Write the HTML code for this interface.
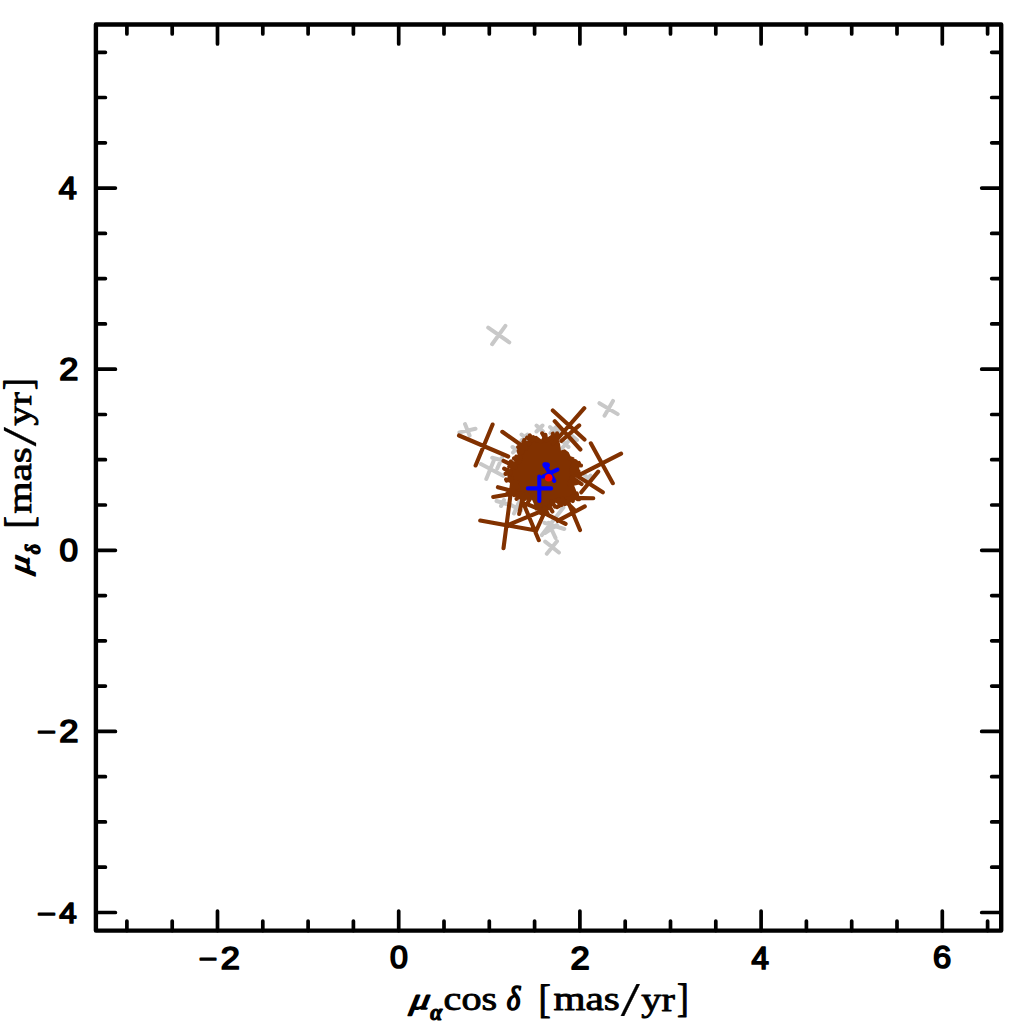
<!DOCTYPE html>
<html><head><meta charset="utf-8"><style>
html,body{margin:0;padding:0;background:#fff;}
svg{display:block;}
.lab{font-size:100px;fill:#000;stroke:#000;stroke-linejoin:round;}
</style></head><body>
<svg width="1024" height="1024" viewBox="0 0 1024 1024">
<rect width="1024" height="1024" fill="#fff"/>
<g stroke="#c8c8c8" stroke-width="4.0" stroke-linecap="round" fill="none"><path d="M488.2,327.6L509.3,342.3M505.4,325.9L492.1,344.2M599.4,403.2L617.7,414.1M613.0,400.9L604.5,415.7M465.0,424.0L469.6,435.6M459.4,432.4L475.5,428.8M480.9,464.1L503.1,475.8M486.3,478.9L494.0,460.0M492.2,457.8L502.0,460.2M502.0,457.8L497.3,468.4M536.5,425.5L543.0,431.5M542.5,425.5L536.5,431.5M550.0,427.0L556.5,433.0M556.0,427.0L550.5,433.0M521.5,434.5L528.0,440.0M527.5,434.5L521.5,440.5M512.5,447.0L519.5,452.0M518.5,446.5L513.0,452.5M560.5,450.0L569.0,440.5M562.0,440.5L568.5,447.0M571.5,435.5L577.0,440.0M571.5,435.5L577.0,440.0M555.0,428.0L559.5,435.0M555.5,435.0L560.0,429.0M585.0,475.5L591.0,481.0M590.5,475.5L585.5,481.5M563.4,507.5L541.9,535.1M544.5,522.8L564.3,529.0M548.5,522.8L555.5,537.8M545.0,533.0L557.0,525.0M545.2,541.6L558.9,552.5M557.0,541.2L546.8,553.7M496.5,501.0L508.5,504.5M501.0,506.0L504.0,500.0M511.0,505.0L521.0,510.5M514.0,513.5L519.0,502.0"/></g>
<path d="M507.5,474.9L508.4,470.2L511.7,466.9L515.5,463.6L517.8,458L519.7,454.25L520.6,448.2L526.25,443.5L528.1,439.25L532.3,436.9L536.6,439.7L540.8,440.2L543.1,436L545.5,437.5L548,440L550,437.5L553,438L556,434.5L558,438L560,443.75L560.9,450.4L564.8,449.2L568.7,452.3L570.6,456.25L574.5,457.4L571.8,461L576.5,461.3L574.7,467.9L576,470.5L573.6,476.5L572.6,481.9L572.6,488.3L576.9,492.6L577.9,495.8L571.5,499.6L567.2,501.2L562,502L557,502L553,504L550,510L545,511L540,509L537,504L536.9,501.5L531,498.5L526,496.7L517.1,494.7L512,492.5L514.5,490L516,486L515,482.5L510,480.5L507.5,477.5Z" fill="#813100"/>
<path d="M459,435.5L508.2,456.5M492.6,424.5L475.6,465.5M502.3,431.8L526,448.5M503.5,460.8L515,466.3M552.8,410.5L584.5,439.6M584.3,408.2L553,444M554.7,421.2L580.4,449.5M579.2,425.4L561.3,441M590.8,443.3L612.8,483.2M621.1,453.6L581,474.1M598.2,471.6L581.3,492.3M576.5,475.5L602.8,492.3M575.1,479.7L581.6,484.1M573,464L581,465.5M556.9,507.1L568.3,500.8M572,497.9L593.3,498.2M566,501.6L573.9,509.5M571,470L578.5,472M584.8,506.4L557.6,520.9M568.3,502.2L580,530M547.3,514.7L565.6,523.9M480.2,520.5L534.8,530.3M512,483.4L503.5,548.3M493.2,497L512,493.8M497.9,487.2L514,491.4M506.1,479.4L516.5,482.5M509.5,524.3L546.5,509M520,495.2L538.8,540.2M519.2,513.9L523.1,495.2M526.25,503.75L544.5,511.4M544.5,512.5L536.1,530.8M573.1,469.8L578.4,471.0M572.0,473.6L578.5,472.6M571.1,477.9L576.7,474.4M570.0,481.5L574.9,479.8M569.6,484.5L577.0,483.1M571.5,484.4L574.0,490.8M576.7,493.3L577.8,499.3M572.1,496.5L579.2,499.2M568.1,498.4L572.8,501.0M562.7,499.0L565.2,504.0M559.1,499.3L561.7,504.8M555.9,500.2L560.0,503.3M551.5,501.4L555.0,506.7M549.2,506.0L552.4,511.5M544.8,508.1L548.0,514.4M544.4,507.6L540.7,513.1M540.9,504.7L536.3,508.4M538.7,501.7L535.3,506.9M533.2,497.5L535.9,503.4M531.9,495.7L528.1,501.9M529.1,495.0L524.6,498.9M525.9,493.8L522.3,499.5M521.8,493.1L516.6,498.9M519.1,493.2L514.3,495.2M515.4,492.3L507.4,493.2M518.3,486.8L512.3,488.5M517.3,482.1L513.7,487.4M516.2,482.0L511.1,481.6M511.8,478.2L506.5,480.5M510.7,473.1L505.5,473.9M510.9,472.3L504.2,468.6M514.9,466.7L509.1,466.7M515.5,467.5L510.9,461.5M518.7,462.6L513.2,463.4M519.5,461.6L514.0,458.4M520.9,458.4L516.3,456.6M520.3,457.3L518.7,450.8M522.1,452.3L518.2,447.1M522.3,450.0L521.9,444.8M525.2,447.6L524.2,440.1M529.2,444.2L523.5,441.7M531.7,440.1L527.1,437.7M532.8,440.0L529.8,435.5M536.9,440.6L533.3,437.1M541.0,441.8L536.2,438.0M545.6,439.2L542.2,433.3M546.2,440.7L545.4,434.8M546.2,440.9L552.4,436.5M555.0,439.7L552.8,433.6M557.0,439.3L557.1,433.3M569.8,458.9L575.8,461.4M572.9,466.7L578.9,463.0M572.0,466.4L577.3,468.0" stroke="#813100" stroke-width="4.1" stroke-linecap="round" fill="none"/>
<path d="M527.9,488.4H551.1M539.3,476.5V500.9M544.5,464.3L554.3,480.9M557.5,469.6L543.1,476.5" stroke="#0000ff" stroke-width="4.1" stroke-linecap="round" fill="none"/>
<ellipse cx="546.3" cy="465.3" rx="3.7" ry="3.1" fill="#0000ff"/>
<circle cx="548.7" cy="477.7" r="3.8" fill="#ff0000"/>
<path d="M126.9,930.6V921.1M126.9,24.5V34.0M172.2,930.6V921.1M172.2,24.5V34.0M217.5,930.6V911.1M217.5,24.5V44.0M262.8,930.6V921.1M262.8,24.5V34.0M308.1,930.6V921.1M308.1,24.5V34.0M353.4,930.6V921.1M353.4,24.5V34.0M398.7,930.6V911.1M398.7,24.5V44.0M444.0,930.6V921.1M444.0,24.5V34.0M489.3,930.6V921.1M489.3,24.5V34.0M534.6,930.6V921.1M534.6,24.5V34.0M579.9,930.6V911.1M579.9,24.5V44.0M625.2,930.6V921.1M625.2,24.5V34.0M670.5,930.6V921.1M670.5,24.5V34.0M715.8,930.6V921.1M715.8,24.5V34.0M761.1,930.6V911.1M761.1,24.5V44.0M806.4,930.6V921.1M806.4,24.5V34.0M851.7,930.6V921.1M851.7,24.5V34.0M897.0,930.6V921.1M897.0,24.5V34.0M942.3,930.6V911.1M942.3,24.5V44.0M987.6,930.6V921.1M987.6,24.5V34.0M95.9,912.5H115.4M1001.2,912.5H981.7M95.9,867.2H105.4M1001.2,867.2H991.7M95.9,821.9H105.4M1001.2,821.9H991.7M95.9,776.7H105.4M1001.2,776.7H991.7M95.9,731.4H115.4M1001.2,731.4H981.7M95.9,686.1H105.4M1001.2,686.1H991.7M95.9,640.8H105.4M1001.2,640.8H991.7M95.9,595.6H105.4M1001.2,595.6H991.7M95.9,550.3H115.4M1001.2,550.3H981.7M95.9,505.0H105.4M1001.2,505.0H991.7M95.9,459.7H105.4M1001.2,459.7H991.7M95.9,414.5H105.4M1001.2,414.5H991.7M95.9,369.2H115.4M1001.2,369.2H981.7M95.9,323.9H105.4M1001.2,323.9H991.7M95.9,278.6H105.4M1001.2,278.6H991.7M95.9,233.4H105.4M1001.2,233.4H991.7M95.9,188.1H115.4M1001.2,188.1H981.7M95.9,142.8H105.4M1001.2,142.8H991.7M95.9,97.5H105.4M1001.2,97.5H991.7M95.9,52.3H105.4M1001.2,52.3H991.7" stroke="#000" stroke-width="3.7" stroke-linecap="round" fill="none"/>
<rect x="95.9" y="24.5" width="905.3" height="906.1" stroke="#000" stroke-width="4.4" fill="none" stroke-linejoin="round"/>
<g class="lab"><text font-family="&quot;Liberation Sans&quot;, sans-serif" stroke-width="5.5" transform="matrix(0.3167,0,0,0.2615,198.77,968.06)">−</text><text font-family="&quot;Liberation Sans&quot;, sans-serif" stroke-width="5.5" transform="matrix(0.3431,0,0,0.3145,220.71,968.56)">2</text><text font-family="&quot;Liberation Sans&quot;, sans-serif" stroke-width="5.5" transform="matrix(0.3208,0,0,0.3078,389.88,968.27)">0</text><text font-family="&quot;Liberation Sans&quot;, sans-serif" stroke-width="5.5" transform="matrix(0.3451,0,0,0.3197,570.41,968.84)">2</text><text font-family="&quot;Liberation Sans&quot;, sans-serif" stroke-width="5.5" transform="matrix(0.3127,0,0,0.3176,751.50,969.16)">4</text><text font-family="&quot;Liberation Sans&quot;, sans-serif" stroke-width="5.5" transform="matrix(0.3269,0,0,0.3117,933.05,968.45)">6</text><text font-family="&quot;Liberation Sans&quot;, sans-serif" stroke-width="5.5" transform="matrix(0.3236,0,0,0.3081,58.80,198.98)">4</text><text font-family="&quot;Liberation Sans&quot;, sans-serif" stroke-width="5.5" transform="matrix(0.3431,0,0,0.3092,59.31,379.87)">2</text><text font-family="&quot;Liberation Sans&quot;, sans-serif" stroke-width="5.5" transform="matrix(0.3321,0,0,0.3091,59.57,560.56)">0</text><text font-family="&quot;Liberation Sans&quot;, sans-serif" stroke-width="5.5" transform="matrix(0.3259,0,0,0.2615,36.95,741.46)">−</text><text font-family="&quot;Liberation Sans&quot;, sans-serif" stroke-width="5.5" transform="matrix(0.3451,0,0,0.3158,59.31,742.05)">2</text><text font-family="&quot;Liberation Sans&quot;, sans-serif" stroke-width="5.5" transform="matrix(0.3259,0,0,0.2615,36.95,922.66)">−</text><text font-family="&quot;Liberation Sans&quot;, sans-serif" stroke-width="5.5" transform="matrix(0.3145,0,0,0.3041,59.30,923.09)">4</text></g>
<g class="lab"><text font-family="&quot;Liberation Serif&quot;, serif" font-style="italic" stroke-width="5.0" transform="matrix(0.3790,0,0,0.2986,409.57,1009.43) skewX(-8)">μ</text><text font-family="&quot;Liberation Serif&quot;, serif" font-weight="bold" font-style="italic" stroke-width="5.0" transform="matrix(0.2167,0,0,0.2250,430.22,1019.62)">α</text><text font-family="&quot;Liberation Serif&quot;, serif" stroke-width="2.5" transform="matrix(0.4016,0,0,0.3380,443.60,1010.42)">cos</text><text font-family="&quot;Liberation Serif&quot;, serif" font-style="italic" stroke-width="5.0" transform="matrix(0.2900,0,0,0.3267,506.80,1010.12)">δ</text><text font-family="&quot;Liberation Serif&quot;, serif" stroke-width="2.5" transform="matrix(0.3680,0,0,0.4059,538.39,1012.52)">[</text><text font-family="&quot;Liberation Serif&quot;, serif" stroke-width="2.5" transform="matrix(0.4120,0,0,0.3440,553.39,1010.41)">mas</text><text font-family="&quot;Liberation Serif&quot;, serif" stroke-width="0.5" transform="matrix(0.6893,0,0,0.4791,620.70,1015.74)">/</text><text font-family="&quot;Liberation Serif&quot;, serif" stroke-width="2.5" transform="matrix(0.4024,0,0,0.3471,641.30,1010.56)">yr</text><text font-family="&quot;Liberation Serif&quot;, serif" stroke-width="2.5" transform="matrix(0.3520,0,0,0.3976,677.10,1011.93)">]</text></g>
<g class="lab" transform="matrix(0,-1,1,0,-979.8,1067)"><text font-family="&quot;Liberation Serif&quot;, serif" font-style="italic" stroke-width="5.0" transform="matrix(0.3629,0,0,0.2882,492.18,1009.13) skewX(-8)">μ</text><text font-family="&quot;Liberation Serif&quot;, serif" font-weight="bold" font-style="italic" stroke-width="6.0" transform="matrix(0.2019,0,0,0.2182,512.70,1019.53)">δ</text><text font-family="&quot;Liberation Serif&quot;, serif" stroke-width="2.5" transform="matrix(0.3680,0,0,0.4059,538.39,1012.52)">[</text><text font-family="&quot;Liberation Serif&quot;, serif" stroke-width="2.5" transform="matrix(0.4120,0,0,0.3440,553.39,1010.41)">mas</text><text font-family="&quot;Liberation Serif&quot;, serif" stroke-width="0.5" transform="matrix(0.6893,0,0,0.4791,620.70,1015.74)">/</text><text font-family="&quot;Liberation Serif&quot;, serif" stroke-width="2.5" transform="matrix(0.4024,0,0,0.3471,641.30,1010.56)">yr</text><text font-family="&quot;Liberation Serif&quot;, serif" stroke-width="2.5" transform="matrix(0.3520,0,0,0.3976,677.10,1011.93)">]</text></g>
</svg>
</body></html>
